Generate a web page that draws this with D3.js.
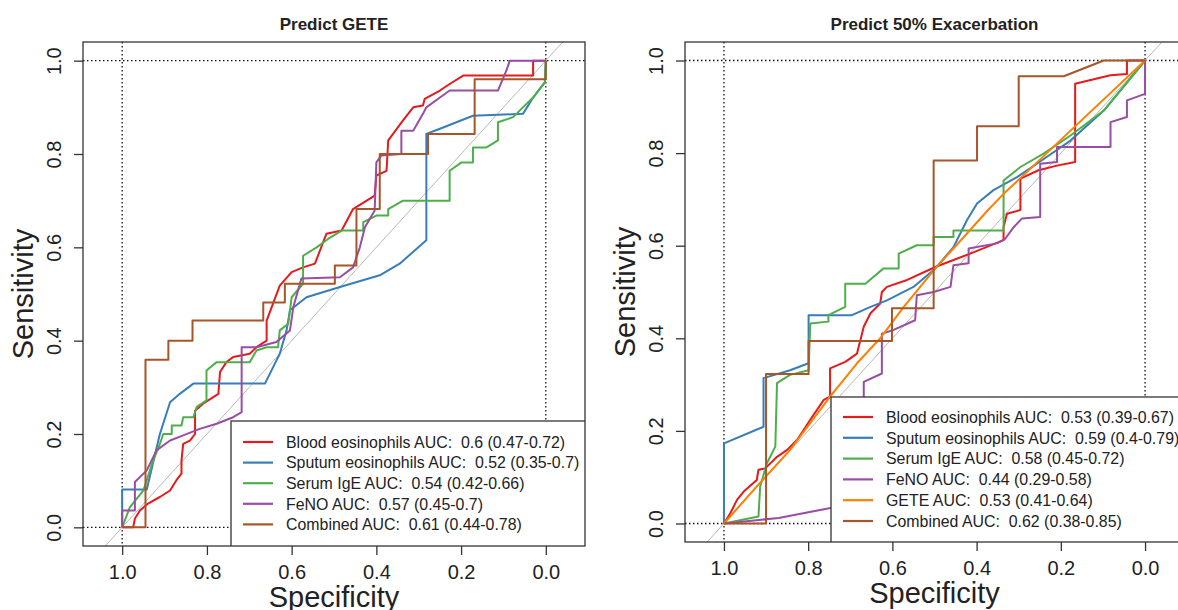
<!DOCTYPE html>
<html>
<head>
<meta charset="utf-8">
<script src="https://cdn.jsdelivr.net/npm/d3@7"></script>
<style>
  body { margin: 0; background: #fff; }
  text { font-family: "Liberation Sans", Arial, sans-serif; fill: #222; }
</style>
</head>
<body>
<div id="chart"></div>
<script>
// ---- data: [specificity, sensitivity] ----
var geteBlood = [[1,0],[0.974,0],[0.970,0.019],[0.958,0.036],[0.939,0.051],[0.911,0.065],[0.887,0.079],[0.872,0.101],[0.860,0.115],[0.860,0.143],[0.856,0.179],[0.840,0.186],[0.828,0.2],[0.828,0.25],[0.809,0.265],[0.785,0.279],[0.773,0.286],[0.769,0.333],[0.754,0.354],[0.738,0.365],[0.699,0.372],[0.683,0.386],[0.659,0.4],[0.659,0.443],[0.628,0.518],[0.6,0.547],[0.573,0.557],[0.545,0.565],[0.518,0.629],[0.482,0.636],[0.455,0.682],[0.404,0.711],[0.4,0.754],[0.376,0.764],[0.372,0.829],[0.337,0.872],[0.313,0.9],[0.29,0.904],[0.286,0.918],[0.25,0.936],[0.227,0.95],[0.195,0.968],[0.03,0.968],[0.03,1],[0,1]];
var geteSputum = [[1,0],[1,0.081],[0.942,0.081],[0.935,0.108],[0.911,0.2],[0.887,0.268],[0.864,0.286],[0.832,0.308],[0.663,0.308],[0.628,0.372],[0.612,0.422],[0.604,0.465],[0.565,0.493],[0.486,0.515],[0.392,0.54],[0.345,0.565],[0.282,0.615],[0.282,0.843],[0.25,0.854],[0.172,0.882],[0.054,0.886],[0.03,0.921],[0.002,0.954],[0,1]];
var geteIgE = [[1,0],[0.982,0.043],[0.95,0.079],[0.927,0.143],[0.911,0.179],[0.903,0.2],[0.883,0.2],[0.883,0.218],[0.86,0.218],[0.856,0.236],[0.832,0.236],[0.824,0.258],[0.801,0.272],[0.801,0.336],[0.777,0.354],[0.699,0.354],[0.683,0.379],[0.659,0.386],[0.632,0.386],[0.628,0.422],[0.608,0.436],[0.6,0.493],[0.573,0.522],[0.573,0.582],[0.541,0.6],[0.514,0.618],[0.482,0.636],[0.431,0.636],[0.431,0.654],[0.4,0.668],[0.372,0.668],[0.372,0.682],[0.337,0.7],[0.227,0.7],[0.227,0.764],[0.199,0.782],[0.172,0.782],[0.172,0.814],[0.14,0.814],[0.113,0.829],[0.113,0.868],[0.077,0.879],[0.054,0.9],[0.03,0.921],[0.002,0.954],[0,1]];
var geteFeNO = [[1,0],[1,0.036],[0.97,0.036],[0.97,0.097],[0.942,0.122],[0.919,0.165],[0.887,0.186],[0.856,0.197],[0.817,0.211],[0.777,0.222],[0.738,0.236],[0.718,0.247],[0.718,0.386],[0.683,0.386],[0.636,0.397],[0.604,0.422],[0.596,0.472],[0.577,0.533],[0.486,0.536],[0.455,0.557],[0.439,0.6],[0.427,0.643],[0.404,0.679],[0.4,0.782],[0.388,0.797],[0.341,0.8],[0.341,0.85],[0.313,0.85],[0.29,0.886],[0.282,0.9],[0.25,0.921],[0.227,0.936],[0.113,0.936],[0.093,0.979],[0.085,1],[0,1]];
var geteCombined = [[1,0],[0.945,0],[0.945,0.359],[0.891,0.359],[0.891,0.4],[0.834,0.4],[0.834,0.443],[0.667,0.443],[0.667,0.482],[0.616,0.482],[0.616,0.522],[0.498,0.522],[0.498,0.561],[0.447,0.561],[0.447,0.682],[0.392,0.682],[0.392,0.8],[0.278,0.8],[0.278,0.843],[0.168,0.843],[0.168,0.96],[0,0.96],[0,1]];

var exaBlood = [[1,0],[0.985,0.022],[0.969,0.051],[0.953,0.069],[0.922,0.094],[0.918,0.116],[0.902,0.119],[0.874,0.144],[0.85,0.159],[0.826,0.181],[0.795,0.224],[0.763,0.267],[0.748,0.274],[0.748,0.335],[0.712,0.349],[0.684,0.367],[0.668,0.425],[0.652,0.454],[0.629,0.475],[0.625,0.5],[0.613,0.511],[0.565,0.526],[0.498,0.554],[0.455,0.569],[0.415,0.583],[0.336,0.612],[0.336,0.64],[0.328,0.669],[0.296,0.677],[0.296,0.745],[0.253,0.763],[0.209,0.773],[0.166,0.781],[0.166,0.95],[0.082,0.968],[0.043,0.971],[0.043,1],[0,1]];
var exaSputum = [[1,0],[1,0.173],[0.906,0.209],[0.906,0.314],[0.843,0.331],[0.799,0.346],[0.799,0.45],[0.696,0.45],[0.652,0.468],[0.613,0.482],[0.55,0.511],[0.498,0.551],[0.455,0.597],[0.423,0.655],[0.399,0.691],[0.36,0.72],[0.304,0.748],[0.257,0.777],[0.177,0.827],[0.098,0.892],[0,1]];
var exaIgE = [[1,0],[0.918,0.015],[0.914,0.08],[0.898,0.13],[0.878,0.166],[0.874,0.303],[0.843,0.321],[0.799,0.331],[0.795,0.432],[0.752,0.436],[0.752,0.45],[0.712,0.468],[0.712,0.518],[0.664,0.518],[0.621,0.551],[0.585,0.551],[0.585,0.583],[0.542,0.601],[0.502,0.601],[0.502,0.619],[0.455,0.619],[0.455,0.633],[0.336,0.633],[0.336,0.741],[0.296,0.77],[0.241,0.799],[0.177,0.838],[0.098,0.892],[0,1]];
var exaFeNO = [[1,0],[0.87,0.012],[0.75,0.033],[0.668,0.045],[0.668,0.306],[0.625,0.324],[0.625,0.41],[0.597,0.418],[0.546,0.439],[0.542,0.493],[0.502,0.5],[0.462,0.511],[0.455,0.558],[0.419,0.562],[0.419,0.594],[0.352,0.605],[0.332,0.615],[0.312,0.64],[0.292,0.659],[0.249,0.662],[0.249,0.777],[0.209,0.781],[0.209,0.813],[0.082,0.813],[0.082,0.867],[0.043,0.878],[0.043,0.914],[0,0.928],[0,1]];
var exaGETE = [[1,0],[0.922,0.08],[0.843,0.159],[0.748,0.274],[0.684,0.346],[0.629,0.4],[0.573,0.468],[0.498,0.551],[0.455,0.594],[0.375,0.675],[0.336,0.712],[0.296,0.746],[0.217,0.814],[0.138,0.882],[0,1]];
var exaCombined = [[1,0],[0.9,0],[0.9,0.323],[0.799,0.323],[0.799,0.394],[0.601,0.394],[0.601,0.465],[0.502,0.465],[0.502,0.784],[0.399,0.784],[0.399,0.858],[0.3,0.858],[0.3,0.966],[0.193,0.966],[0.098,1],[0,1]];

var geteLabels = ["Blood eosinophils AUC:  0.6 (0.47-0.72)", "Sputum eosinophils AUC:  0.52 (0.35-0.7)", "Serum IgE AUC:  0.54 (0.42-0.66)", "FeNO AUC:  0.57 (0.45-0.7)", "Combined AUC:  0.61 (0.44-0.78)"];
var exaLabels = ["Blood eosinophils AUC:  0.53 (0.39-0.67)", "Sputum eosinophils AUC:  0.59 (0.4-0.79)", "Serum IgE AUC:  0.58 (0.45-0.72)", "FeNO AUC:  0.44 (0.29-0.58)", "GETE AUC:  0.53 (0.41-0.64)", "Combined AUC:  0.62 (0.38-0.85)"];

var tickValues = [1.0, 0.8, 0.6, 0.4, 0.2, 0.0];

// Set1 colours
var red = "#E41A1C", blue = "#377EB8", green = "#4DAF4A", purple = "#984EA3", orange = "#FF7F00", brown = "#A65628";

var svg = d3.select("#chart").append("svg")
    .attr("width", 1178)
    .attr("height", 610);

function drawPanel(p, idx)
{
    var x = d3.scaleLinear().domain([1.0925, -0.0925]).range([p.left, p.left + p.width]);
    var y = d3.scaleLinear().domain([-0.04, 1.04]).range([p.top + p.height, p.top]);

    var g = svg.append("g");

    // clip everything inside the box
    svg.append("clipPath").attr("id", "clip" + idx)
        .append("rect")
        .attr("x", p.left).attr("y", p.top)
        .attr("width", p.width).attr("height", p.height);

    var inner = g.append("g").attr("clip-path", "url(#clip" + idx + ")");

    // dotted reference lines at 0 and 1
    [0, 1].forEach(function(v) {
        inner.append("line")
            .attr("x1", p.left).attr("x2", p.left + p.width)
            .attr("y1", y(v)).attr("y2", y(v))
            .attr("stroke", "#111").attr("stroke-width", 1.3)
            .attr("stroke-dasharray", "1.5,2.5");
        inner.append("line")
            .attr("x1", x(v)).attr("x2", x(v))
            .attr("y1", p.top).attr("y2", p.top + p.height)
            .attr("stroke", "#111").attr("stroke-width", 1.3)
            .attr("stroke-dasharray", "1.5,2.5");
    });

    // chance diagonal
    inner.append("line")
        .attr("x1", x(1.2)).attr("y1", y(-0.2))
        .attr("x2", x(-0.2)).attr("y2", y(1.2))
        .attr("stroke", "#b8b8b8").attr("stroke-width", 1);

    var line = d3.line()
        .x(function(d) { return x(d[0]); })
        .y(function(d) { return y(d[1]); });

    p.series.forEach(function(s) {
        inner.append("path")
            .datum(s.values)
            .attr("fill", "none")
            .attr("stroke", s.color)
            .attr("stroke-width", 2)
            .attr("stroke-linejoin", "round")
            .attr("d", line);
    });

    // legend box, drawn over the curves
    var lg = inner.append("g");
    lg.append("rect")
        .attr("x", p.legend.x).attr("y", p.legend.y)
        .attr("width", p.left + p.width - p.legend.x + 2)
        .attr("height", p.top + p.height - p.legend.y + 2)
        .attr("fill", "#fff")
        .attr("stroke", "#333").attr("stroke-width", 1.3);

    p.series.forEach(function(s, i) {
        var ly = p.legend.y0 + i * p.legend.step;
        lg.append("line")
            .attr("x1", p.legend.x + 12).attr("x2", p.legend.x + 42)
            .attr("y1", ly).attr("y2", ly)
            .attr("stroke", s.color).attr("stroke-width", 2.2);
        lg.append("text")
            .attr("x", p.legend.x + 55)
            .attr("y", ly)
            .attr("dy", "0.36em")
            .attr("font-size", "15.9px")
            .style("white-space", "pre")
            .text(s.label);
    });

    // plot frame
    g.append("rect")
        .attr("x", p.left).attr("y", p.top)
        .attr("width", p.width).attr("height", p.height)
        .attr("fill", "none")
        .attr("stroke", "#333").attr("stroke-width", 1.3);

    // x axis
    var xAxis = g.append("g")
        .attr("transform", "translate(0," + (p.top + p.height) + ")")
        .call(d3.axisBottom(x).tickValues(tickValues).tickFormat(d3.format(".1f"))
            .tickSize(9).tickSizeOuter(0).tickPadding(10));
    xAxis.select(".domain").remove();
    xAxis.selectAll("line").attr("stroke", "#333").attr("stroke-width", 1.3);
    xAxis.selectAll("text")
        .attr("font-size", "20px")
        .attr("font-family", "Liberation Sans, Arial, sans-serif")
        .attr("fill", "#222");

    // y axis with rotated labels
    var yAxis = g.append("g")
        .attr("transform", "translate(" + p.left + ",0)")
        .call(d3.axisLeft(y).tickValues(tickValues).tickFormat(d3.format(".1f"))
            .tickSize(9).tickSizeOuter(0));
    yAxis.select(".domain").remove();
    yAxis.selectAll("line").attr("stroke", "#333").attr("stroke-width", 1.3);
    yAxis.selectAll("text")
        .attr("x", 0).attr("dy", 0)
        .attr("transform", "translate(-22,0) rotate(-90)")
        .attr("text-anchor", "middle")
        .attr("font-size", "20px")
        .attr("font-family", "Liberation Sans, Arial, sans-serif")
        .attr("fill", "#222");

    var cx = p.left + p.width / 2;

    // title
    g.append("text")
        .attr("x", cx).attr("y", 30)
        .attr("text-anchor", "middle")
        .attr("font-size", "17px")
        .attr("font-weight", "bold")
        .text(p.title);

    // axis titles
    g.append("text")
        .attr("x", cx).attr("y", p.top + p.height + 61)
        .attr("text-anchor", "middle")
        .attr("font-size", "29px")
        .text("Specificity");

    g.append("text")
        .attr("transform", "translate(" + (p.left - 50) + "," + (p.top + p.height / 2) + ") rotate(-90)")
        .attr("text-anchor", "middle")
        .attr("font-size", "29px")
        .text("Sensitivity");
}

var gete = {
    title: "Predict GETE",
    left: 83, top: 42, width: 502, height: 504,
    legend: { x: 231, y: 421, y0: 442, step: 20.6 },
    series: [
        { values: geteBlood, color: red, label: geteLabels[0] },
        { values: geteSputum, color: blue, label: geteLabels[1] },
        { values: geteIgE, color: green, label: geteLabels[2] },
        { values: geteFeNO, color: purple, label: geteLabels[3] },
        { values: geteCombined, color: brown, label: geteLabels[4] }
    ]
};

var exa = {
    title: "Predict 50% Exacerbation",
    left: 685, top: 42, width: 499, height: 500,
    legend: { x: 831, y: 397, y0: 417, step: 20.8 },
    series: [
        { values: exaBlood, color: red, label: exaLabels[0] },
        { values: exaSputum, color: blue, label: exaLabels[1] },
        { values: exaIgE, color: green, label: exaLabels[2] },
        { values: exaFeNO, color: purple, label: exaLabels[3] },
        { values: exaGETE, color: orange, label: exaLabels[4] },
        { values: exaCombined, color: brown, label: exaLabels[5] }
    ]
};

drawPanel(gete, 0);
drawPanel(exa, 1);
</script>
</body>
</html>
